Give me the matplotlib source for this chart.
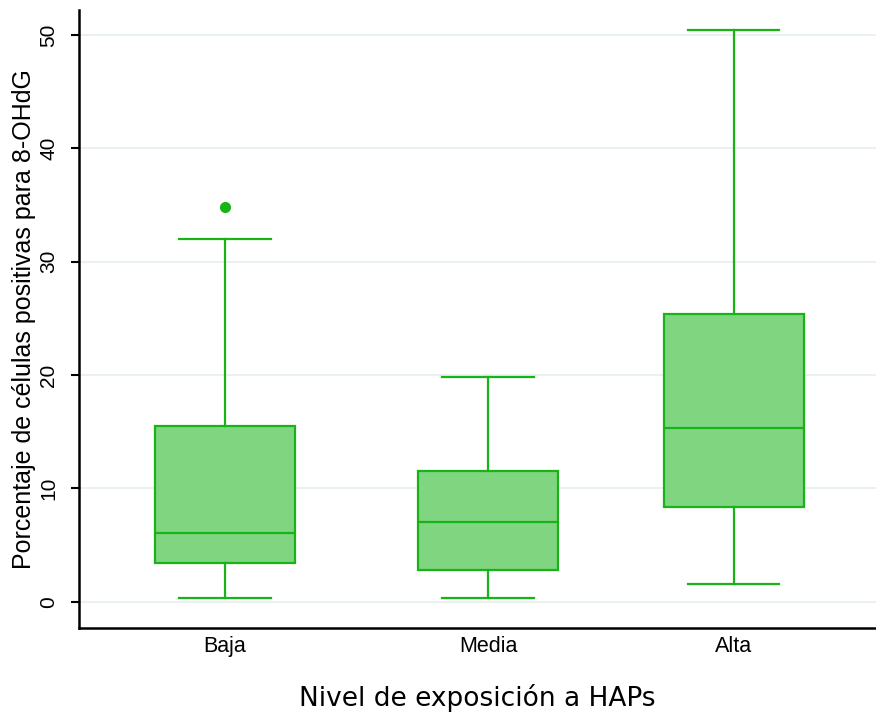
import matplotlib
matplotlib.use("Agg")
import matplotlib.pyplot as plt

# nivel de exposicion y estadisticos de cada caja
grupos = ["Baja", "Media", "Alta"]
minimos = [0.35, 0.35, 1.6]
q1 = [3.4, 2.8, 8.4]
medianas = [6.1, 7.0, 15.3]
q3 = [15.5, 11.5, 25.4]
maximos = [32.0, 19.8, 50.4]
atipicos = [[34.8], [], []]
yticks = [0, 10, 20, 30, 40, 50]

verde = "#17b317"
relleno = "#80d680"

stats = []
for i in range(len(grupos)):
    stats.append({"label": grupos[i], "whislo": minimos[i], "q1": q1[i],
                  "med": medianas[i], "q3": q3[i], "whishi": maximos[i],
                  "fliers": atipicos[i]})

fig = plt.figure(figsize=(8.76, 7.2), dpi=100)
ax = fig.add_axes([0.090, 0.128, 0.91, 0.858])

posiciones = [1, 2.035, 3]
ax.bxp(stats, positions=posiciones, widths=0.55, patch_artist=True,
       boxprops=dict(facecolor=relleno, edgecolor=verde, linewidth=1.6),
       medianprops=dict(color=verde, linewidth=1.6),
       whiskerprops=dict(color=verde, linewidth=1.6),
       capprops=dict(color=verde, linewidth=1.6),
       capwidths=0.36,
       flierprops=dict(marker="o", markerfacecolor=verde, markeredgecolor=verde,
                       markersize=7))

ax.set_xlim(0.425, 3.56)
ax.set_ylim(-2.3, 52.2)
ax.set_yticks(yticks)
ax.set_yticklabels([str(t) for t in yticks], rotation=90, va="center",
                   fontsize=15, family="Liberation Sans")
ax.set_xticks(posiciones)
ax.set_xticklabels(grupos, fontsize=15.5, family="Liberation Sans")
ax.tick_params(axis="x", length=0, pad=6)
ax.tick_params(axis="y", length=6, width=1.5, pad=9)

ax.yaxis.grid(True, color="#e8f0f0", linewidth=1.3)
ax.set_axisbelow(True)

for s in ["top", "right"]:
    ax.spines[s].set_visible(False)
ax.spines["left"].set_linewidth(1.8)
ax.spines["bottom"].set_linewidth(1.8)

ax.set_ylabel("Porcentaje de células positivas para 8-OHdG", fontsize=18,
              family="Liberation Sans", labelpad=2)
ax.set_xlabel("Nivel de exposición a HAPs", fontsize=19, family="DejaVu Sans",
              labelpad=19)

fig.savefig("out.png", dpi=100)
